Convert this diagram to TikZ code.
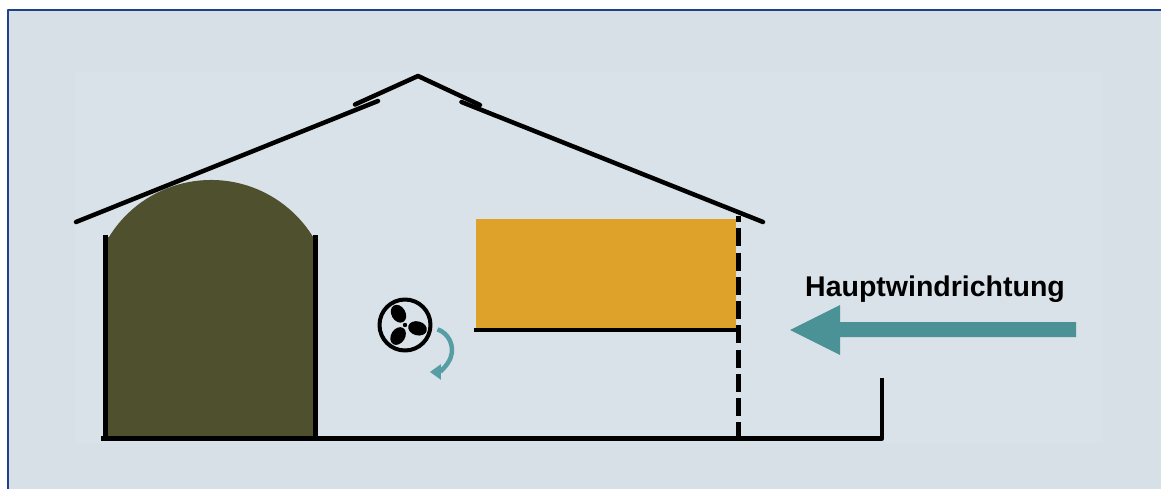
\documentclass[tikz,border=0pt]{standalone}
\usepackage{fontspec}
\setmainfont{Liberation Sans}
\usetikzlibrary{arrows.meta}
\definecolor{bgouter}{RGB}{214,224,230}
\definecolor{bginner}{RGB}{217,226,232}
\definecolor{frameblue}{RGB}{32,64,140}
\definecolor{silo}{RGB}{79,80,46}
\definecolor{hay}{RGB}{222,162,42}
\definecolor{wind}{RGB}{74,146,150}
\definecolor{swirl}{RGB}{86,158,163}
\tikzset{
  wall/.style={line width=4.5pt, black},
  roof/.style={line width=4.5pt, black, line cap=round},
  openwall/.style={line width=5pt, black, dash pattern=on 18pt off 6.25pt, dash phase=12pt},
  blade/.style={black},
}
\begin{document}
\begin{tikzpicture}[x=1pt, y=1pt, line join=round]
  % canvas and frame
  \useasboundingbox (0,0) rectangle (1161,-489);
  \fill[white] (0,0) rectangle (1161,-489);
  \fill[bgouter] (8,-10) rectangle (1161,-489);
  \fill[bginner] (75,-72) rectangle (1103,-443);
  \draw[frameblue, line width=2pt] (8,-489) -- (8,-10) -- (1161,-10);

  % silo with domed top
  \fill[silo] (105,-438) -- (105,-237) -- (109,-237)
     arc[start angle=148.4, end angle=31.6, radius=119.8]
     -- (316,-237) -- (316,-438) -- cycle;
  \draw[wall] (105.5,-235) -- (105.5,-438);
  \draw[wall] (315.5,-235) -- (315.5,-438);

  % hay stack under the roof
  \fill[hay] (476,-219) rectangle (736,-328);
  \draw[line width=4pt] (474,-330) -- (738,-330);

  % floor and low wall on the right
  \draw[wall] (101,-438.5) -- (882,-438.5) -- (882,-378);

  % open gable side
  \draw[openwall] (738.5,-216) -- (738.5,-440);

  % roof with ridge vents
  \draw[roof] (76,-222) -- (378,-101);
  \draw[roof] (355,-104.5) -- (418,-76) -- (480,-105);
  \draw[roof] (461.5,-102) -- (763,-222);

  % fan
  \draw[line width=4pt] (405,-325) circle[radius=25.5];
  \foreach \a in {120,238,345}
    \fill[blade, rotate around={\a:(405,-325)}] (418,-325) ellipse[x radius=9.5, y radius=7];
  \fill (405,-325) circle[radius=2.2];
  \draw[swirl, line width=4.5pt, -{Triangle[length=11pt, width=15pt]}]
    (437.5,-329.3) arc[start angle=70, end angle=-90, radius=22];

  % main wind direction
  \fill[wind] (1076,-322) -- (840,-322) -- (840,-305) -- (790,-330)
     -- (840,-355) -- (840,-337) -- (1076,-337) -- cycle;
  \node[anchor=base west, inner sep=0pt, font=\bfseries\fontsize{28.5}{30}\selectfont]
    (windlabel) at (805,-296) {Hauptwindrichtung};
\end{tikzpicture}
\end{document}
